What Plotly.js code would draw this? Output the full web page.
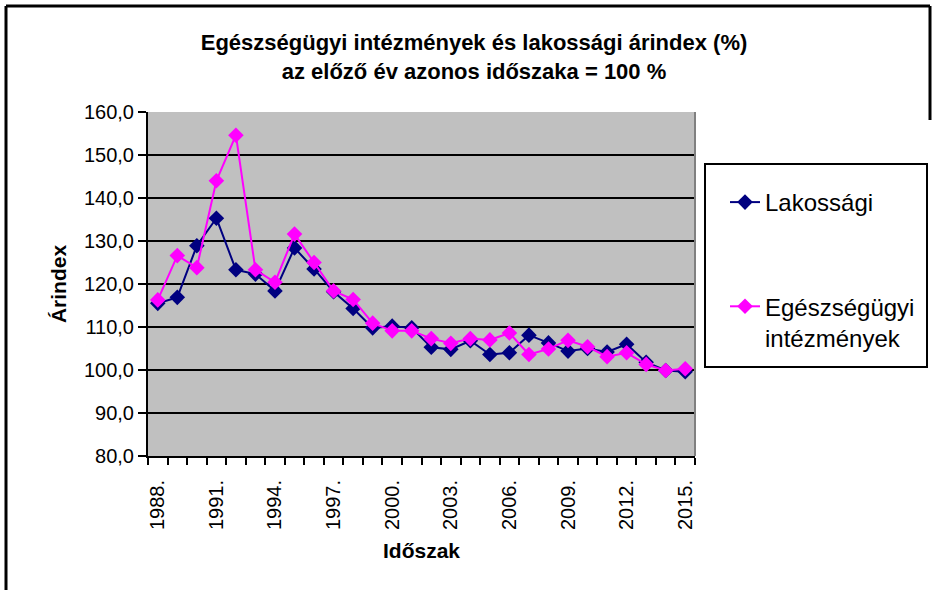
<!DOCTYPE html>
<html><head><meta charset="utf-8">
<script src="https://cdn.plot.ly/plotly-3.0.1.min.js"></script>
<style>body{margin:0;background:#fff}#chart{width:935px;height:590px}</style>
</head><body><div id="chart"></div>
<script>
const years = [1988,1989,1990,1991,1992,1993,1994,1995,1996,1997,1998,1999,2000,2001,2002,2003,2004,2005,2006,2007,2008,2009,2010,2011,2012,2013,2014,2015];
const lakossagi = [115.5,116.9,128.9,135.3,123.3,122.3,118.4,128.4,123.5,118.2,114.3,109.8,110.2,109.8,105.3,104.8,106.8,103.6,104.0,108.1,106.3,104.4,105.0,104.2,106.0,101.8,99.9,99.6];
const egeszsegugyi = [116.3,126.6,123.8,144.0,154.6,123.3,120.4,131.6,125.0,118.4,116.4,110.9,109.1,109.1,107.3,106.2,107.3,107.0,108.6,103.6,104.9,106.9,105.4,103.1,104.0,101.3,99.9,100.3];
const labelYears = [1988,1991,1994,1997,2000,2003,2006,2009,2012,2015];
const labelText = ['1988.','1991.','1994.','1997.','2000.','2003.','2006.','2009.','2012.','2015.'];
const seriesNames = ['Lakossági','Egészségügyi<br>intézmények'];

const F = '"Liberation Sans", Arial, sans-serif';
const traces = [
  {x: years, y: lakossagi, name: seriesNames[0], type: 'scatter', mode: 'lines+markers', legendgroup: 'a',
   line: {color: '#000080', width: 2}, marker: {symbol: 'diamond', size: 12, color: '#000080'}},
  {x: years, y: egeszsegugyi, name: seriesNames[1], type: 'scatter', mode: 'lines+markers', legendgroup: 'b',
   line: {color: '#FF00FF', width: 2}, marker: {symbol: 'diamond', size: 12, color: '#FF00FF'}}
];
const L=148, R=695, T=112, B=456, W=935, H=590;
const px = v => (v - L) / (R - L);
const py = v => (B - v) / (B - T);
const layout = {
  width: W, height: H,
  margin: {l: L, r: W - R, t: T, b: H - B},
  paper_bgcolor: '#ffffff', plot_bgcolor: '#C0C0C0',
  separators: ', ',
  font: {family: F, color: '#000'},
  showlegend: true,
  title: {text: '<b>Egészségügyi intézmények és lakossági árindex (%)<br>az előző év azonos időszaka = 100 %</b>',
    font: {size: 22, family: F, color: '#000'}, x: 474/W, xanchor: 'center', xref: 'container',
    y: 1 - 50/H, yanchor: 'top', yref: 'container'},
  xaxis: {range: [1987.5, 2015.5], tickmode: 'array', tickvals: labelYears, ticktext: labelText,
    tickangle: -90, ticks: 'outside', ticklen: 0, ticklabelstandoff: 14, showgrid: false, zeroline: false,
    showline: true, linecolor: '#000', linewidth: 2,
    minor: {tick0: 1987.5, dtick: 1, ticks: 'outside', ticklen: 7, tickcolor: '#000', tickwidth: 2, showgrid: false},
    tickfont: {size: 20, family: F, color: '#000'},
    title: {text: '<b>Időszak</b>', font: {size: 21, family: F, color: '#000'}, standoff: 14}},
  yaxis: {range: [80, 160], dtick: 10, tick0: 80, tickformat: '.1f', ticks: 'outside', ticklen: 8,
    tickwidth: 2, tickcolor: '#000', showgrid: true, gridcolor: '#000', gridwidth: 2, zeroline: false,
    showline: true, linecolor: '#000', linewidth: 2,
    tickfont: {size: 20, family: F, color: '#000'},
    title: {text: '<b>Árindex</b>', font: {size: 21, family: F, color: '#000'}, standoff: 12}},
  legend: {x: px(725), y: py(180), xanchor: 'left', yanchor: 'top', bgcolor: 'rgba(0,0,0,0)', borderwidth: 0,
    font: {size: 24, family: F, color: '#000'}, tracegroupgap: 70, valign: 'top', traceorder: 'grouped'},
  shapes: [
    {type: 'line', xref: 'paper', yref: 'paper', x0: 1, x1: 1, y0: 0, y1: 1, line: {color: '#808080', width: 2}},
    {type: 'rect', xref: 'paper', yref: 'paper', x0: px(705), x1: px(927), y0: py(367), y1: py(164), line: {color: '#000', width: 2}},
    {type: 'line', xref: 'paper', yref: 'paper', x0: px(6), x1: px(6), y0: py(6), y1: py(592), line: {color: '#000', width: 3}},
    {type: 'line', xref: 'paper', yref: 'paper', x0: px(6), x1: px(930), y0: py(6), y1: py(6), line: {color: '#000', width: 3}},
    {type: 'line', xref: 'paper', yref: 'paper', x0: px(930), x1: px(930), y0: py(6), y1: py(120), line: {color: '#000', width: 3}}
  ]
};
Plotly.newPlot('chart', traces, layout, {displayModeBar: false, staticPlot: true});
</script></body></html>
